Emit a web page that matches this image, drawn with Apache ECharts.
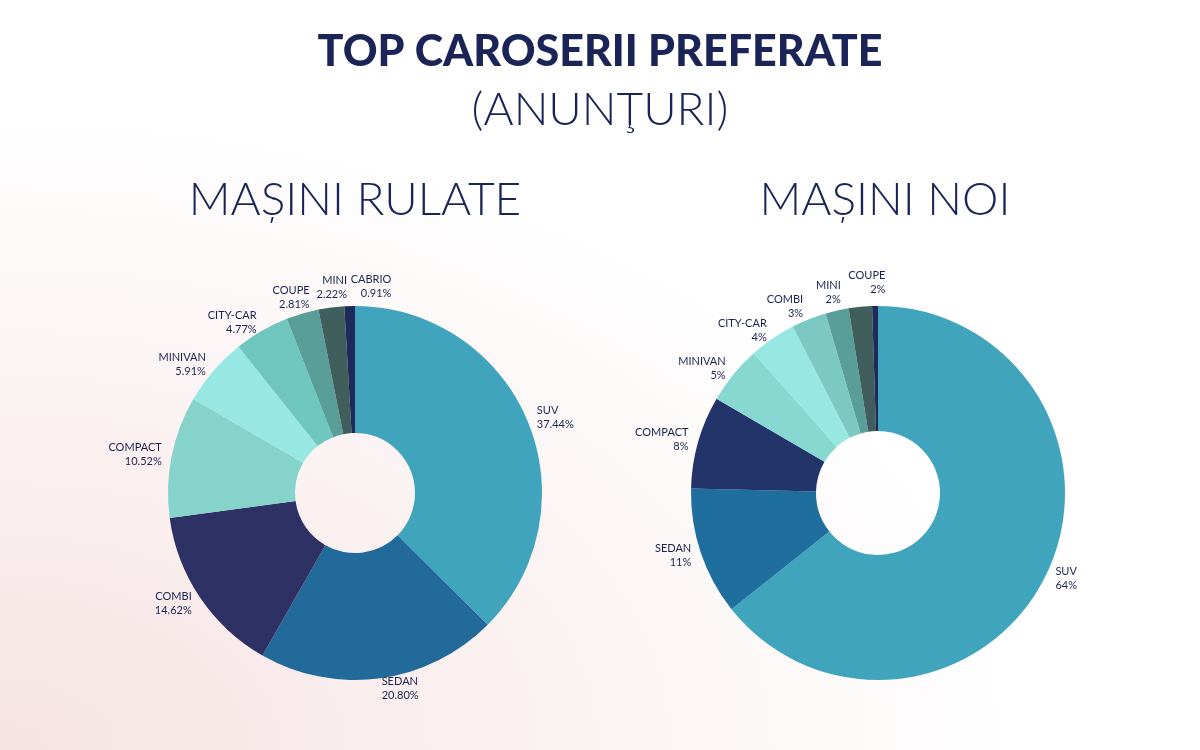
<!DOCTYPE html>
<html><head><meta charset="utf-8">
<script src="https://cdn.jsdelivr.net/npm/echarts@6/dist/echarts.min.js"></script>
<style>html,body{margin:0;padding:0;}#c{width:1200px;height:750px;background:radial-gradient(ellipse at 0% 100%, #f6e3e3 0%, #fbf1f1 30%, #ffffff 60%);}</style>
</head><body><div id="c"></div>
<script>
const usedNames = ['SUV','SEDAN','COMBI','COMPACT','MINIVAN','CITY-CAR','COUPE','MINI','CABRIO'];
const usedValues = [37.44,20.80,14.62,10.52,5.91,4.77,2.81,2.22,0.91];
const usedLabels = ['37.44%','20.80%','14.62%','10.52%','5.91%','4.77%','2.81%','2.22%','0.91%'];
const usedColors = ['#40a4bd','#226a99','#2e3163','#86d3cc','#97e8e3','#6fc6bf','#5a9e9a','#3f5e5c','#1d2a5a'];
const newNames = ['SUV','SEDAN','COMPACT','MINIVAN','CITY-CAR','COMBI','MINI','COUPE',''];
const newValues = [64,11,8,5,4,3,2,2,0.5];
const newLabels = ['64%','11%','8%','5%','4%','3%','2%','2%',''];
const newColors = ['#40a4bd','#1e6e9e','#22346a','#86d8d0','#97e8e3','#7cc8c2','#5a9e9a','#3f5e5c','#1d2a5a'];

// label nudges (layout only)
const usedNudge = {COUPE:[10,-6],MINI:[17,-10],CABRIO:[42,-10]};
const newNudge = {COMBI:[-2,-4],MINI:[6,-8],COUPE:[26,-14]};

function mk(names, vals, labs, cols, nudge){
  return names.map((n,i)=>({name:n,value:vals[i],pct:labs[i],itemStyle:{color:cols[i]},
    label:{show:n!=='',offset:nudge[n]||[0,0]}}));
}
const lbl = {show:true,position:'outside',formatter:p=>p.name+'\n'+p.data.pct,color:'#1a2350',
  fontFamily:'Lato',fontSize:11,lineHeight:14,distanceToLabelLine:0};
const chart = echarts.init(document.getElementById('c'));
chart.setOption({
  title:[
    {text:'TOP CAROSERII PREFERATE',left:'center',top:26,textStyle:{fontFamily:'Lato',fontWeight:900,fontSize:43,color:'#1b2456'}},
    {text:'(ANUNŢURI)',left:'center',top:82,textStyle:{fontFamily:'Lato',fontWeight:300,fontSize:46,color:'#1b2456'}},
    {text:'MAȘINI RULATE',left:350,textAlign:'center',top:172,textStyle:{fontFamily:'Lato',fontWeight:300,fontSize:46,color:'#1b2456'}},
    {text:'MAȘINI NOI',left:880,textAlign:'center',top:172,textStyle:{fontFamily:'Lato',fontWeight:300,fontSize:46,color:'#1b2456'}}
  ],
  series:[
    {type:'pie',center:[355,493],radius:[60,187],startAngle:90,clockwise:true,silent:true,avoidLabelOverlap:false,
     labelLayout:{hideOverlap:false},
     label:lbl,labelLine:{show:false,length:10,length2:0},data:mk(usedNames,usedValues,usedLabels,usedColors,usedNudge)},
    {type:'pie',center:[878,493],radius:[62,187],startAngle:90,clockwise:true,silent:true,avoidLabelOverlap:false,
     labelLayout:{hideOverlap:false},
     label:lbl,labelLine:{show:false,length:10,length2:0},data:mk(newNames,newValues,newLabels,newColors,newNudge)}
  ]
});
</script></body></html>
